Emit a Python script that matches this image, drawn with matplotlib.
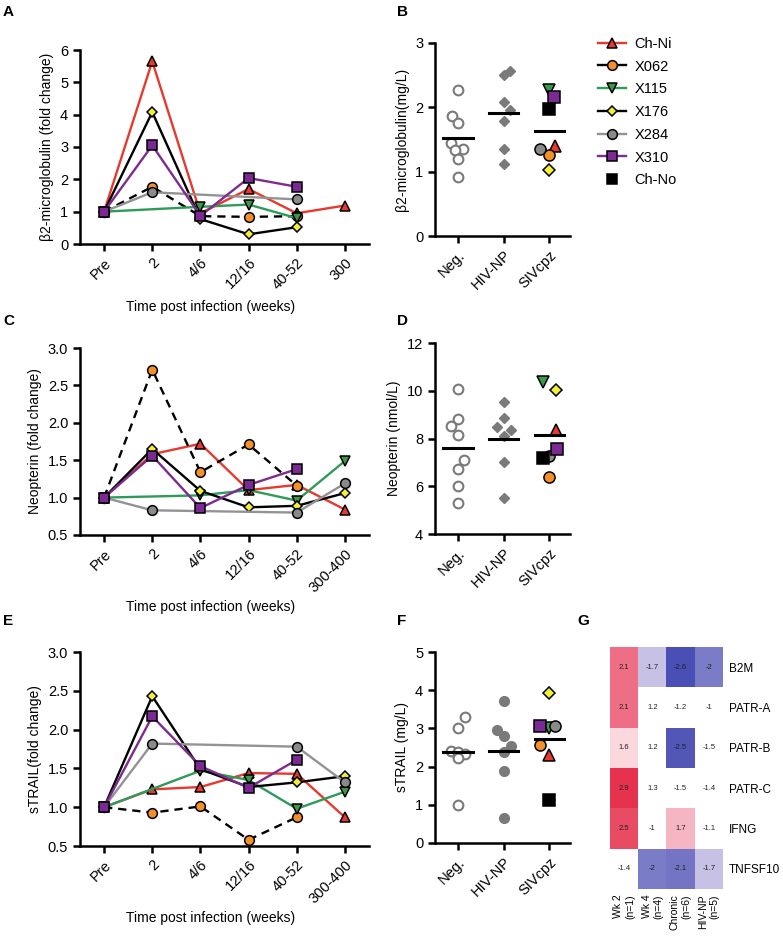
import numpy as np
import matplotlib
matplotlib.use('Agg')
import matplotlib.pyplot as plt
from matplotlib.colors import LinearSegmentedColormap
from matplotlib.lines import Line2D

plt.rcParams['font.family'] = ['Liberation Sans', 'DejaVu Sans']

nan = np.nan
animals = ['Ch-Ni', 'X062', 'X115', 'X176', 'X284', 'X310']
siv_animals = animals + ['Ch-No']

# A: beta2-microglobulin fold change
b2m_times = ['Pre', '2', '4/6', '12/16', '40-52', '300']
b2m_chni = [1, 5.65, 0.95, 1.70, 0.95, 1.19]
b2m_x062 = [1, 1.77, 0.86, 0.84, 0.86, nan]
b2m_x115 = [1, nan, 1.15, 1.22, 0.80, nan]
b2m_x176 = [1, 4.08, 0.77, 0.30, 0.52, nan]
b2m_x284 = [1, 1.60, nan, nan, 1.38, nan]
b2m_x310 = [1, 3.05, 0.87, 2.04, 1.77, nan]

# C: neopterin fold change
neo_times = ['Pre', '2', '4/6', '12/16', '40-52', '300-400']
neo_chni = [1, 1.58, 1.72, 1.10, 1.17, 0.84]
neo_x062 = [1, 2.71, 1.34, 1.71, 1.16, nan]
neo_x115 = [1, nan, 1.03, 1.10, 0.96, 1.49]
neo_x176 = [1, 1.65, 1.09, 0.87, 0.89, 1.06]
neo_x284 = [1, 0.83, nan, nan, 0.80, 1.19]
neo_x310 = [1, 1.56, 0.86, 1.17, 1.38, nan]

# E: sTRAIL fold change
trail_times = ['Pre', '2', '4/6', '12/16', '40-52', '300-400']
trail_chni = [1, 1.23, 1.26, 1.44, 1.43, 0.87]
trail_x062 = [1, 0.93, 1.01, 0.58, 0.87, nan]
trail_x115 = [1, nan, 1.47, 1.35, 0.98, 1.20]
trail_x176 = [1, 2.43, 1.49, 1.26, 1.32, 1.40]
trail_x284 = [1, 1.82, nan, nan, 1.78, 1.32]
trail_x310 = [1, 2.17, 1.53, 1.25, 1.61, nan]

# B, D, F: absolute levels per group
groups = ['Neg.', 'HIV-NP', 'SIVcpz']
b2m_neg = [2.27, 1.86, 1.75, 1.45, 1.35, 1.33, 1.20, 0.92]
b2m_hiv = [2.57, 2.50, 2.08, 1.96, 1.79, 1.35, 1.12]
b2m_siv = [1.40, 1.26, 2.27, 1.03, 1.35, 2.16, 1.97]   # order of siv_animals
neo_neg = [10.07, 8.83, 8.51, 8.13, 7.09, 6.72, 6.00, 5.30]
neo_hiv = [9.52, 8.86, 8.48, 8.37, 8.09, 7.02, 5.51]
neo_siv = [8.35, 6.40, 10.35, 10.05, 7.25, 7.55, 7.20]
trail_neg = [3.29, 3.00, 2.40, 2.38, 2.33, 2.22, 0.99]
trail_hiv = [3.73, 2.95, 2.81, 2.53, 2.37, 1.89, 0.65]
trail_siv = [2.30, 2.57, 3.01, 3.93, 3.06, 3.06, 1.13]

# G: heatmap (fold change)
hm_genes = ['B2M', 'PATR-A', 'PATR-B', 'PATR-C', 'IFNG', 'TNFSF10']
hm_cols = ['Wk 2\n(n=1)', 'Wk 4\n(n=4)', 'Chronic\n(n=6)', 'HIV-NP\n(n=5)']
hm_wk2 = [2.1, 2.1, 1.6, 2.9, 2.5, -1.4]
hm_wk4 = [-1.7, 1.2, 1.2, 1.3, -1, -2]
hm_chronic = [-2.6, -1.2, -2.5, -1.5, 1.7, -2.1]
hm_hivnp = [-2, -1, -1.5, -1.4, -1.1, -1.7]

# jitter of overlapping dots (layout only)
b2m_dx = [[0, -0.12, 0, -0.15, 0.12, -0.06, 0, 0], [0.13, 0, 0, 0.13, 0, 0, 0], [0.13, 0, 0, 0, -0.2, 0.1, 0]]
neo_dx = [[0, 0, -0.15, 0, 0.13, 0, 0, 0], [0, 0, -0.15, 0.15, 0, 0, 0], [0.15, 0, -0.15, 0.15, 0, 0.17, -0.15]]
trail_dx = [[0.15, 0, -0.15, 0, 0.15, 0, 0], [0, -0.15, 0, 0.15, 0, 0, 0], [0, -0.2, 0, 0, 0.13, -0.2, 0]]

styles = {
    'Ch-Ni': dict(line='#e8392e', face='#e8392e', marker='^', ms=7, ls='-'),
    'X062': dict(line='black', face='#f3902a', marker='o', ms=7, ls='--'),
    'X115': dict(line='#2e9b5a', face='#3a9a48', marker='v', ms=7, ls='-'),
    'X176': dict(line='black', face='#f2f03a', marker='D', ms=5, ls='-'),
    'X284': dict(line='#939393', face='#8a8a8a', marker='o', ms=7, ls='-'),
    'X310': dict(line='#7d2b8f', face='#7b2a94', marker='s', ms=7, ls='-'),
    'Ch-No': dict(line='none', face='black', marker='s', ms=7, ls='none'),
}

W, H = 783, 938
fig = plt.figure(figsize=(W / 100, H / 100), dpi=100)


def px_axes(x0, y0, x1, y1):
    return fig.add_axes([x0 / W, 1 - y1 / H, (x1 - x0) / W, (y1 - y0) / H])


def style_ax(ax):
    for s in ['top', 'right']:
        ax.spines[s].set_visible(False)
    for s in ['left', 'bottom']:
        ax.spines[s].set_linewidth(1.8)
    ax.tick_params(direction='out', length=5, width=1.8, labelsize=10.5)


def time_panel(ax, series, ticks, ylim, yticks, ylabel, fmt='%g'):
    x = np.arange(len(ticks))
    for name in animals:
        st = styles[name]
        y = np.array(series[name], float)
        m = ~np.isnan(y)
        kw = dict(dashes=(3.5, 2.5)) if st['ls'] == '--' else {}
        ax.plot(x[m], y[m], color=st['line'], lw=1.7, marker=st['marker'], ms=st['ms'],
                mfc=st['face'], mec='black', mew=1.1, **kw)
    ax.set_xlim(-0.5, len(ticks) - 0.5)
    ax.set_ylim(*ylim)
    ax.set_yticks(yticks)
    ax.set_yticklabels([fmt % v for v in yticks])
    ax.set_xticks(x)
    ax.set_xticklabels(ticks, rotation=45, ha='right', rotation_mode='anchor')
    ax.set_ylabel(ylabel, fontsize=10)
    style_ax(ax)


def dot_panel(ax, neg, hiv, siv, dx, ylim, yticks, ylabel, hiv_marker):
    pos = np.arange(1, 4)
    ax.plot(pos[0] + np.array(dx[0]), neg, ls='none', marker='o', ms=7, mfc='white',
            mec='#7a7a7a', mew=1.5)
    ax.plot(pos[1] + np.array(dx[1]), hiv, ls='none', marker=hiv_marker,
            ms=5.5 if hiv_marker == 'D' else 7, mfc='#7a7a7a', mec='#7a7a7a')
    for name, v, d in zip(siv_animals, siv, dx[2]):
        st = styles[name]
        ax.plot(pos[2] + d, v, ls='none', marker=st['marker'], ms=st['ms'] + 1,
                mfc=st['face'], mec='black', mew=1.1)
    for p, vals in zip(pos, [neg, hiv, siv]):
        ax.plot([p - 0.32, p + 0.32], [np.mean(vals)] * 2, color='black', lw=2.2)
    ax.set_xlim(0.5, 3.45)
    ax.set_ylim(*ylim)
    ax.set_yticks(yticks)
    ax.set_xticks(pos)
    ax.set_xticklabels(groups, rotation=45, ha='right', rotation_mode='anchor')
    ax.set_ylabel(ylabel, fontsize=10)
    style_ax(ax)


axA = px_axes(80, 50, 369, 244)
time_panel(axA, dict(zip(animals, [b2m_chni, b2m_x062, b2m_x115, b2m_x176, b2m_x284, b2m_x310])),
           b2m_times, (0, 6), range(0, 7), '\u03b22-microglobulin (fold change)')
axC = px_axes(80, 348, 369, 535)
time_panel(axC, dict(zip(animals, [neo_chni, neo_x062, neo_x115, neo_x176, neo_x284, neo_x310])),
           neo_times, (0.5, 3.0), np.arange(0.5, 3.01, 0.5), 'Neopterin (fold change)', '%.1f')
axE = px_axes(80, 652, 369, 846)
time_panel(axE, dict(zip(animals, [trail_chni, trail_x062, trail_x115, trail_x176, trail_x284, trail_x310])),
           trail_times, (0.5, 3.0), np.arange(0.5, 3.01, 0.5), 'sTRAIL(fold change)', '%.1f')
for yy in [307, 607, 918]:
    fig.text(211 / W, 1 - yy / H, 'Time post infection (weeks)', ha='center', va='center', fontsize=10)

axB = px_axes(435, 43, 570, 236)
dot_panel(axB, b2m_neg, b2m_hiv, b2m_siv, b2m_dx, (0, 3), range(0, 4), '\u03b22-microglobulin(mg/L)', 'D')
axD = px_axes(435, 343, 570, 534)
dot_panel(axD, neo_neg, neo_hiv, neo_siv, neo_dx, (4, 12), range(4, 13, 2), 'Neopterin (nmol/L)', 'D')
axF = px_axes(435, 652, 570, 843)
dot_panel(axF, trail_neg, trail_hiv, trail_siv, trail_dx, (0, 5), range(0, 6), 'sTRAIL (mg/L)', 'o')

# legend
handles = []
for name in siv_animals:
    st = styles[name]
    handles.append(Line2D([], [], color=st['line'] if name != 'X062' else 'black', ls='-' if name != 'Ch-No' else 'none',
                          lw=1.7, marker=st['marker'], ms=st['ms'], mfc=st['face'], mec='black', mew=1.1))
fig.legend(handles, siv_animals, loc='upper left', bbox_to_anchor=(592 / W, 1 - 31 / H), frameon=False,
           fontsize=10.5, handlelength=1.9, labelspacing=0.6, handletextpad=0.6, borderaxespad=0)

# G heatmap
hm = np.array([hm_wk2, hm_wk4, hm_chronic, hm_hivnp]).T
nodes = [(-3, '#3236a8'), (-2.6, '#4a4fb5'), (-2.0, '#7c7dc8'), (-1.7, '#c9c4e6'), (-1.56, '#f4f2fb'),
         (-1.55, '#ffffff'), (1.55, '#ffffff'), (1.6, '#fbdde2'), (1.7, '#f6b7c4'), (2.1, '#ef6f86'),
         (2.5, '#ea4c64'), (2.9, '#e6344f'), (3, '#e5304b')]
cmap = LinearSegmentedColormap.from_list('hm', [((v + 3) / 6, c) for v, c in nodes])
axG = px_axes(610, 647, 723, 889)
axG.imshow(hm, cmap=cmap, vmin=-3, vmax=3, aspect='auto', interpolation='nearest')
for i in range(hm.shape[0]):
    for j in range(hm.shape[1]):
        axG.text(j, i, '%g' % hm[i, j], ha='center', va='center', fontsize=5.5, color='#222222')
for s in axG.spines.values():
    s.set_visible(False)
axG.yaxis.tick_right()
axG.set_yticks(range(len(hm_genes)))
axG.set_yticklabels(hm_genes, fontsize=8.5)
axG.set_xticks(range(len(hm_cols)))
axG.set_xticklabels(hm_cols, rotation=90, fontsize=7.5, va='top', ha='center', multialignment='right')
axG.tick_params(length=0, pad=4)

# panel letters
for lab, x, y in [('A', 3, 5), ('B', 397, 5), ('C', 3, 314), ('D', 397, 314),
                  ('E', 3, 614), ('F', 397, 614), ('G', 577, 614)]:
    fig.text(x / W, 1 - y / H, lab, fontsize=11, fontweight='bold', ha='left', va='top')

fig.savefig('out.png', dpi=100)
